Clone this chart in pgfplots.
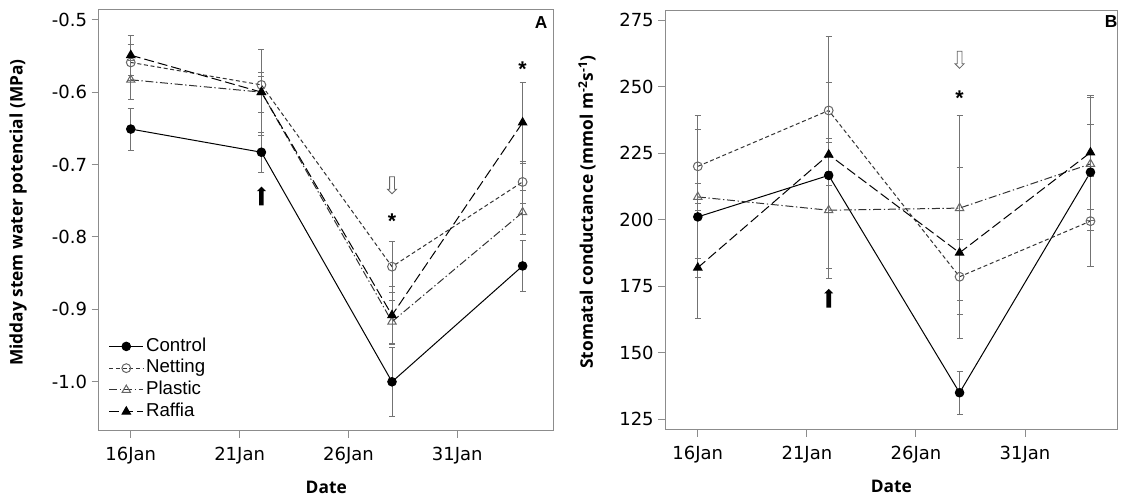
\documentclass[border=0pt]{standalone}
\usepackage{fontspec}
\setmainfont{Open Sans}
\newfontfamily\legfont{Liberation Sans}
\newfontfamily\tickfont{DejaVu Sans}
\usepackage{pgfplots}
\pgfplotsset{compat=1.18}
\usetikzlibrary{shapes.arrows}
\definecolor{axgray}{gray}{0.55}
\definecolor{errgray}{gray}{0.45}
\tikzset{
  uparrow/.style={single arrow, draw=none, fill=black, shape border rotate=90, minimum height=14pt, minimum width=6.75pt, inner sep=1.5pt, single arrow head extend=1.6pt},
  downarrow/.style={single arrow, draw=black!60, line width=0.6pt, fill=white, shape border rotate=270, minimum height=12.75pt, minimum width=6.5pt, inner sep=1.5pt, single arrow head extend=1.6pt},
  star/.style={font=\legfont\bfseries\fontsize{16}{16}\selectfont, anchor=base, yshift=-9.2pt, inner sep=0pt},
}
\pgfplotsset{
  panel/.style={
    scale only axis,
    axis line style={axgray, line width=0.75pt},
    tick pos=left, tick align=outside, major tick length=5.5pt,
    tick style={axgray, line width=0.75pt},
    xtick={16,21,26,31}, xticklabels={16Jan,21Jan,26Jan,31Jan},
    ticklabel style={font=\tickfont\fontsize{13.5}{15}\selectfont},
    xticklabel style={anchor=base, yshift=-17pt},
    label style={font=\fontsize{13}{15}\selectfont\bfseries},
    xlabel={Date},
    xlabel style={at={(axis description cs:0.5,0)}, anchor=base, yshift=-47pt},
    legend image code/.code={\draw[mark repeat=2,mark phase=2,##1] plot coordinates {(0cm,0cm) (0.45cm,0cm) (0.9cm,0cm)};},
  },
  eb/.style={error bars/.cd, y dir=both, y explicit,
    error bar style={errgray, line width=0.5pt, solid},
    error mark options={errgray, line width=0.5pt, mark size=2.3pt, solid, rotate=90}},
  ctrl/.style={black, line width=0.75pt, solid, mark=*, mark size=3.2pt, mark options={solid, fill=black}},
  net/.style={black!80, line width=0.75pt, dash pattern=on 3pt off 2pt, mark=o, mark size=3.3pt, mark options={solid, black!60, fill=none}},
  pla/.style={black!80, line width=0.75pt, dash pattern=on 6pt off 2pt on 1pt off 2pt, mark=triangle, mark size=3.6pt, mark options={solid, black!60, fill=none}},
  raf/.style={black, line width=0.75pt, dash pattern=on 7.5pt off 3pt, mark=triangle*, mark size=3.6pt, mark options={solid, fill=black}},
}
\begin{document}
\begin{tikzpicture}
\useasboundingbox (0,0) rectangle (840.75pt,372.75pt);
% Panel A
\begin{axis}[panel,
  at={(74.25pt,49.9pt)}, anchor=south west,
  width=340.9pt, height=315.4pt,
  xmin=14.54, xmax=35.42, ymin=-1.0672, ymax=-0.4865,
  ytick={-1.0,-0.9,-0.8,-0.7,-0.6,-0.5},
  yticklabels={-1.0,-0.9,-0.8,-0.7,-0.6,-0.5},
  ylabel={Midday stem water potencial (MPa)},
  ylabel style={at={([xshift=-60.75pt]axis description cs:0,0.518)}, anchor=center},
  legend style={at={(0.012,0.012)}, anchor=south west, draw=none, fill=none,
    font=\legfont\fontsize{14}{15}\selectfont, row sep=0pt,
    nodes={text height=10pt, text depth=3pt, inner sep=1.65pt}},
  legend cell align=left,
]
\addplot[ctrl, eb] table[x=x, y=y, y error=e] {
x y e
16 -0.651 0.029
22 -0.683 0.028
28 -1.000 0.048
34 -0.840 0.035
};
\addlegendentry{Control}
\addplot[net, eb] table[x=x, y=y, y error=e] {
x y e
16 -0.559 0.025
22 -0.590 0.012
28 -0.841 0.035
34 -0.724 0.029
};
\addlegendentry{Netting}
\addplot[pla, eb] table[x=x, y=y, y error=e] {
x y e
16 -0.583 0.027
22 -0.600 0.028
28 -0.917 0.030
34 -0.766 0.030
};
\addlegendentry{Plastic}
\addplot[raf, eb] table[x=x, y=y, y error=e] {
x y e
16 -0.549 0.028
22 -0.600 0.059
28 -0.908 0.040
34 -0.642 0.056
};
\addlegendentry{Raffia}
\node[uparrow] at (axis cs:22,-0.745) {};
\node[downarrow] at (axis cs:28,-0.727) {};
\node[star] at (axis cs:28,-0.772) {*};
\node[star] at (axis cs:34,-0.561) {*};
\node[font=\legfont\bfseries\fontsize{13}{13}\selectfont] at (rel axis cs:0.9725,0.971) {A};
\end{axis}
% Panel B
\begin{axis}[panel,
  at={(499.3pt,50.6pt)}, anchor=south west,
  width=338.5pt, height=313.9pt,
  xmin=14.53, xmax=35.22, ymin=121.06, ymax=278.4,
  ytick={125,150,175,200,225,250,275},
  yticklabels={125,150,175,200,225,250,275},
  ylabel={Stomatal conductance (mmol m\textsuperscript{-2}s\textsuperscript{-1})},
  ylabel style={at={([xshift=-59pt]axis description cs:0,0.52)}, anchor=center},
]
\addplot[ctrl, eb] table[x=x, y=y, y error=e] {
x y e
16 201.0 38
22 216.6 35
28 134.9 8
34 217.8 18
};
\addplot[net, eb] table[x=x, y=y, y error=e] {
x y e
16 220.0 14
22 241.0 28
28 178.5 14
34 199.4 17
};
\addplot[pla, eb] table[x=x, y=y, y error=e] {
x y e
16 208.5 5
22 203.5 25.5
28 204.3 34.7
34 220.9 25
};
\addplot[raf, eb] table[x=x, y=y, y error=e] {
x y e
16 181.9 3.5
22 224.4 6.3
28 187.5 32
34 225.2 21.5
};
\node[uparrow] at (axis cs:22,170) {};
\node[downarrow] at (axis cs:28,260.5) {};
\node[star] at (axis cs:28,247.3) {*};
\node[font=\legfont\bfseries\fontsize{13}{13}\selectfont] at (rel axis cs:0.987,0.974) {B};
\end{axis}
\end{tikzpicture}
\end{document}
